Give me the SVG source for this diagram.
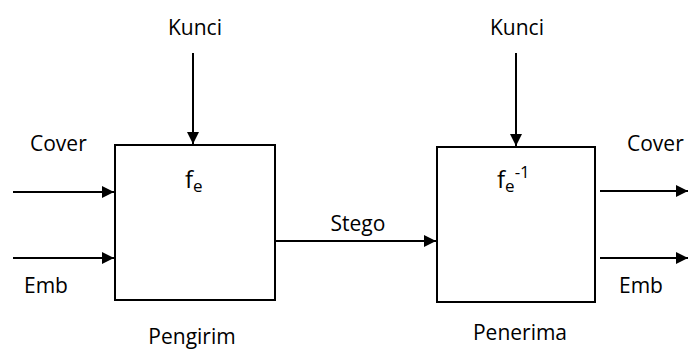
<svg xmlns="http://www.w3.org/2000/svg" width="688" height="351" viewBox="0 0 688 351">
  <style>
    text { font-family: "Open Sans", "Liberation Sans", sans-serif; font-size: 21px; fill: #000; }
    .fn { font-size: 24px; }
    .small { font-size: 17px; }
    .box { fill: #fff; stroke: #000; stroke-width: 2; }
    .link { stroke: #000; stroke-width: 2; fill: none; marker-end: url(#head); }
  </style>
  <defs>
    <marker id="head" viewBox="0 0 12 12" refX="12" refY="6" markerWidth="12" markerHeight="12" markerUnits="userSpaceOnUse" orient="auto">
      <path d="M0,0 L12,6 L0,12 Z" fill="#000"/>
    </marker>
  </defs>

  <rect width="688" height="351" fill="#fff"/>

  <g id="connectors">
    <line class="link" x1="193" y1="53" x2="193" y2="144"/>
    <line class="link" x1="516" y1="53" x2="516" y2="146"/>
    <line class="link" x1="13" y1="192" x2="114" y2="192"/>
    <line class="link" x1="13" y1="258" x2="114" y2="258"/>
    <line class="link" x1="276" y1="241" x2="436" y2="241"/>
    <line class="link" x1="600" y1="191" x2="688" y2="191"/>
    <line class="link" x1="600" y1="258" x2="688" y2="258"/>
  </g>

  <g id="sender">
    <rect class="box" x="115" y="145" width="160" height="155"/>
    <text class="fn" x="185" y="188">f<tspan class="small" dy="4">e</tspan></text>
    <text x="192" y="344" text-anchor="middle">Pengirim</text>
  </g>

  <g id="receiver">
    <rect class="box" x="437" y="147" width="158" height="155"/>
    <text class="fn" x="497" y="188">f<tspan class="small" dy="4">e</tspan><tspan class="small" dy="-14">-1</tspan></text>
    <text x="520" y="340" text-anchor="middle">Penerima</text>
  </g>

  <g id="labels">
    <text x="195" y="35" text-anchor="middle">Kunci</text>
    <text x="517" y="35" text-anchor="middle">Kunci</text>
    <text x="30" y="151">Cover</text>
    <text x="24" y="293">Emb</text>
    <text x="358" y="231" text-anchor="middle">Stego</text>
    <text x="627" y="151">Cover</text>
    <text x="619" y="293">Emb</text>
  </g>
</svg>
